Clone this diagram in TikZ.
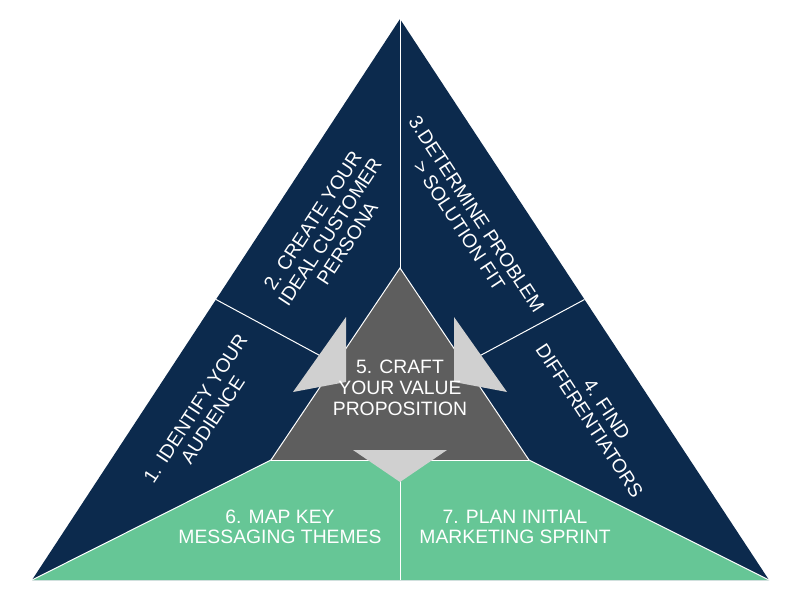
\documentclass[tikz,border=0pt]{standalone}
\usepackage{fontspec}
\setmainfont{Liberation Sans}
\usetikzlibrary{calc}
\definecolor{navy}{HTML}{0C2A4D}
\definecolor{slate}{HTML}{5E5E5E}
\definecolor{seagreen}{HTML}{66C696}
\definecolor{pointergrey}{HTML}{D0D0D0}
\tikzset{
    boxtext/.style={text=white, align=center, inner sep=0pt,
        font=\fontsize{14.5}{15.5}\selectfont},
    divider/.style={draw=white, line width=0.75pt},
    pointer/.style={fill=pointergrey}
}

\begin{document}
\begin{tikzpicture}[x=0.75pt, y=-0.75pt]
    \useasboundingbox (0,0) rectangle (800,600);
    \fill[white] (0,0) rectangle (800,600);

    \coordinate (top) at (400,19);
    \coordinate (bl) at (32,580);
    \coordinate (br) at (769,580);
    \coordinate (itop) at (400,268);
    \coordinate (ibl) at (271,460);
    \coordinate (ibr) at (529,460);
    \coordinate (gmid) at (400,460);
    \coordinate (bmid) at (400,580);

    \fill[navy] (top) -- (bl) -- (br) -- cycle;
    \fill[seagreen] (bl) -- (ibl) -- (ibr) -- (br) -- cycle;
    \fill[slate] (itop) -- (ibl) -- (ibr) -- cycle;

    \draw[divider] (top) -- (itop);
    \draw[divider] ($(top)!0.5!(bl)$) -- ($(itop)!0.5!(ibl)$);
    \draw[divider] ($(top)!0.5!(br)$) -- ($(itop)!0.5!(ibr)$);
    \draw[divider] (bl) -- (ibl) -- (itop) -- (ibr) -- (br);
    \draw[divider] (ibl) -- (ibr);
    \draw[divider] (gmid) -- (bmid);

    \fill[pointer] (346,317) -- (346,382) -- (293,392) -- cycle;
    \fill[pointer] (454,317) -- (454,382) -- (507,392) -- cycle;
    \fill[pointer] (353,450) -- (447,450) -- (400,482) -- cycle;

    \node[boxtext, rotate=56.7] (identify) at (204,414) {1. IDENTIFY YOUR\\AUDIENCE};
    \node[boxtext, rotate=56.7] (persona) at (330,232) {2. CREATE YOUR\\IDEAL CUSTOMER\\PERSONA};
    \node[boxtext, rotate=-56.7] (problem) at (468,220) {3.DETERMINE PROBLEM\\> SOLUTION FIT};
    \node[boxtext, rotate=-56.7] (differ) at (598,415) {4. FIND\\DIFFERENTIATORS};
    \node[boxtext, font=\fontsize{14.5}{16}\selectfont] (craft) at (400,388) {5. CRAFT\\YOUR VALUE\\PROPOSITION};
    \node[boxtext] (themes) at (280,527) {6. MAP KEY\\MESSAGING THEMES};
    \node[boxtext] (sprint) at (515,527) {7. PLAN INITIAL\\MARKETING SPRINT};
\end{tikzpicture}
\end{document}
